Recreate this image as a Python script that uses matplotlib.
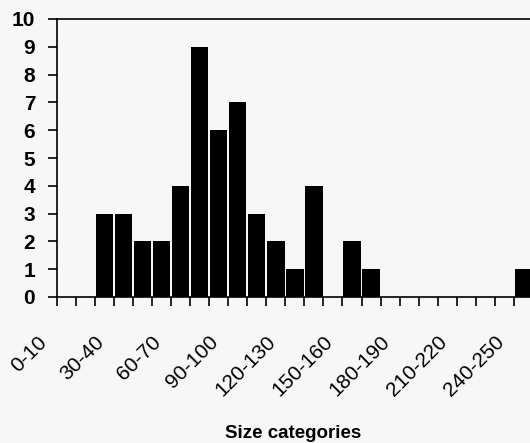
import matplotlib
matplotlib.use("Agg")
import matplotlib.pyplot as plt
import matplotlib.transforms as mtransforms

# Size categories (10-unit bins) and counts
categories = [f"{lo}-{lo + 10}" for lo in range(0, 250, 10)]
counts = [0, 0, 3, 3, 2, 2, 4, 9, 6, 7, 3, 2, 1, 4, 0, 2, 1,
          0, 0, 0, 0, 0, 0, 0, 1]
label_every = 3
y_ticks = list(range(0, 11))

plt.rcParams["font.family"] = ["Liberation Sans", "DejaVu Sans"]

W, H = 530, 443
fig = plt.figure(figsize=(W / 100, H / 100), dpi=100)
bg = "#f7f7f7"
fig.patch.set_facecolor(bg)

# axes box: left spine at x~57px, zero line at y~297px, top at y~19px
cat_px = 19.05
left_px, top_px, zero_px = 56.7, 19.0, 297.0
ax = fig.add_axes([left_px / W, (H - zero_px) / H,
                   cat_px * len(categories) / W, (zero_px - top_px) / H])
ax.set_facecolor(bg)

x = [i + 0.5 for i in range(len(categories))]
ax.bar(x, counts, width=0.92, color="black", edgecolor="none", zorder=2)

ax.set_xlim(0, len(categories))
ax.set_ylim(0, 10)

for side in ["left", "top", "bottom", "right"]:
    ax.spines[side].set_linewidth(1.2)
    ax.spines[side].set_color("black")

# tick marks at category boundaries, labels drawn separately
ax.set_xticks(range(len(categories) + 1))
ax.set_xticklabels([])
ax.tick_params(axis="x", direction="out", length=6.5, width=1.2, color="black")

ax.set_yticks(y_ticks)
ax.set_yticklabels([str(v) for v in y_ticks], fontsize=15, fontweight="bold")
ax.tick_params(axis="y", direction="out", length=6.5, width=1.2, pad=9, color="black")

# rotated category labels, every third category
base = mtransforms.blended_transform_factory(ax.transData, ax.transAxes)
offset = mtransforms.ScaledTranslation(-22 / 100, -42 / 100, fig.dpi_scale_trans)
for i in range(0, len(categories), label_every):
    ax.text(x[i], 0, categories[i], rotation=45, rotation_mode="anchor",
            ha="right", va="center", fontsize=15, transform=base + offset)

fig.text(293 / W, 1 - 434 / H, "Size categories", ha="center", va="center",
         fontsize=13.5, fontweight="bold")

fig.savefig("out.png", dpi=100, facecolor=fig.get_facecolor())
